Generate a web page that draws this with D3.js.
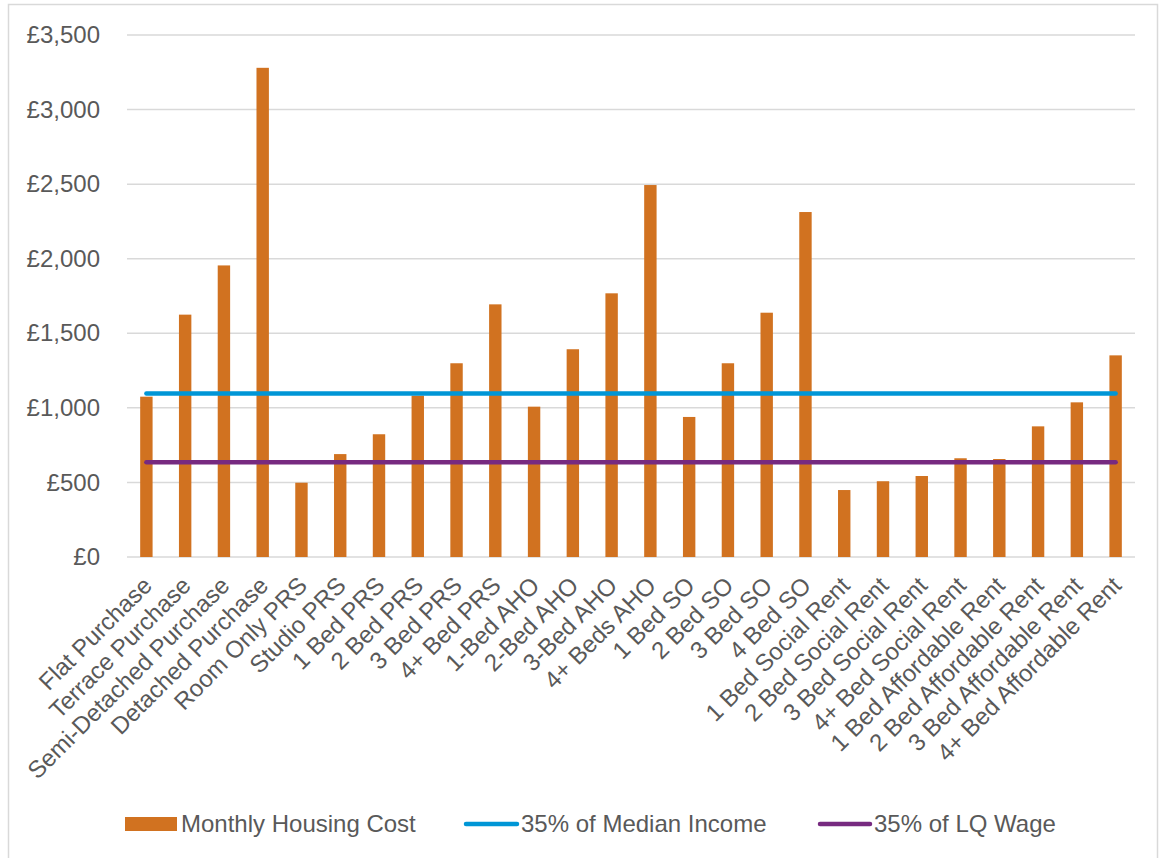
<!DOCTYPE html>
<html><head><meta charset="utf-8">
<script src="https://cdn.jsdelivr.net/npm/d3@7"></script>
<style>body{margin:0;background:#fff;} svg{display:block;font-family:"Liberation Sans",Arial,sans-serif;}</style>
</head><body>
<svg id="chart" width="1164" height="858"></svg>
<script>
const categories = ["Flat Purchase","Terrace Purchase","Semi-Detached Purchase","Detached Purchase","Room Only PRS","Studio PRS","1 Bed PRS","2 Bed PRS","3 Bed PRS","4+ Bed PRS","1-Bed AHO","2-Bed AHO","3-Bed AHO","4+ Beds AHO","1 Bed SO","2 Bed SO","3 Bed SO","4 Bed SO","1 Bed Social Rent","2 Bed Social Rent","3 Bed Social Rent","4+ Bed Social Rent","1 Bed Affordable Rent","2 Bed Affordable Rent","3 Bed Affordable Rent","4+ Bed Affordable Rent"];
const monthlyHousingCost = [1075,1625,1955,3280,498,690,823,1082,1299,1694,1008,1393,1768,2494,939,1299,1638,2313,449,508,543,662,657,876,1037,1352];
const medianIncome35 = 1096;
const lqWage35 = 635;
const yTicks = [0,500,1000,1500,2000,2500,3000,3500];
const seriesNames = ["Monthly Housing Cost","35% of Median Income","35% of LQ Wage"];
const colors = {bar:"#D17220", blue:"#0096D6", purple:"#772A80"};

const svg = d3.select("#chart");
svg.append("rect").attr("x",8.5).attr("y",4.5).attr("width",1149).attr("height",870)
  .attr("fill","none").attr("stroke","#D9D9D9").attr("stroke-width",1.5);

const pLeft=127, pRight=1135, pTop=35, pBottom=557;
const x = d3.scaleBand().domain(categories).range([pLeft,pRight]).paddingInner(0.68).paddingOuter(0.34);
const y = d3.scaleLinear().domain([0,3500]).range([pBottom,pTop]);
const fmt = d => "£" + d3.format(",")(d);
const FS = 24;

svg.append("g").selectAll("line").data(yTicks).join("line")
  .attr("x1",pLeft).attr("x2",pRight).attr("y1",d=>y(d)).attr("y2",d=>y(d))
  .attr("stroke","#D9D9D9").attr("stroke-width",1.5);

const yAxis = d3.axisLeft(y).tickValues(yTicks).tickFormat(fmt).tickSize(0).tickPadding(0);
const yg = svg.append("g").attr("transform",`translate(100,0)`).call(yAxis);
yg.select(".domain").remove();
yg.selectAll("text").attr("font-size",FS).attr("fill","#595959").attr("font-family","Liberation Sans, Arial, sans-serif");

svg.append("g").selectAll("rect").data(monthlyHousingCost).join("rect")
  .attr("x",(d,i)=>x(categories[i])).attr("width",x.bandwidth())
  .attr("y",d=>y(d)).attr("height",d=>pBottom-y(d)).attr("fill",colors.bar);

const cx = c => x(c)+x.bandwidth()/2;
const line = d3.line().x(d=>cx(d[0])).y(d=>y(d[1]));
svg.append("path").datum(categories.map(c=>[c,medianIncome35])).attr("d",line)
  .attr("fill","none").attr("stroke",colors.blue).attr("stroke-width",4.5).attr("stroke-linecap","round");
svg.append("path").datum(categories.map(c=>[c,lqWage35])).attr("d",line)
  .attr("fill","none").attr("stroke",colors.purple).attr("stroke-width",4.5).attr("stroke-linecap","round");

const xAxis = d3.axisBottom(x).tickSize(0).tickPadding(0);
const xg = svg.append("g").attr("transform",`translate(0,${pBottom})`).call(xAxis);
xg.select(".domain").remove();
xg.selectAll("text").attr("font-size",FS).attr("fill","#595959")
  .attr("font-family","Liberation Sans, Arial, sans-serif")
  .attr("text-anchor","end").attr("dy",null).attr("y",0)
  .attr("transform","translate(7,30) rotate(-45)");

const lg = svg.append("g").attr("font-size",FS).attr("fill","#595959");
lg.append("rect").attr("x",125).attr("y",817).attr("width",52).attr("height",14).attr("fill",colors.bar);
lg.append("text").attr("x",181).attr("y",832).text(seriesNames[0]).attr("fill","#595959");
lg.append("line").attr("x1",466).attr("x2",517).attr("y1",824).attr("y2",824).attr("stroke",colors.blue).attr("stroke-width",4.5).attr("stroke-linecap","round");
lg.append("text").attr("x",521).attr("y",832).text(seriesNames[1]).attr("fill","#595959");
lg.append("line").attr("x1",820).attr("x2",870).attr("y1",824).attr("y2",824).attr("stroke",colors.purple).attr("stroke-width",4.5).attr("stroke-linecap","round");
lg.append("text").attr("x",874).attr("y",832).text(seriesNames[2]).attr("fill","#595959");
</script>
</body></html>
